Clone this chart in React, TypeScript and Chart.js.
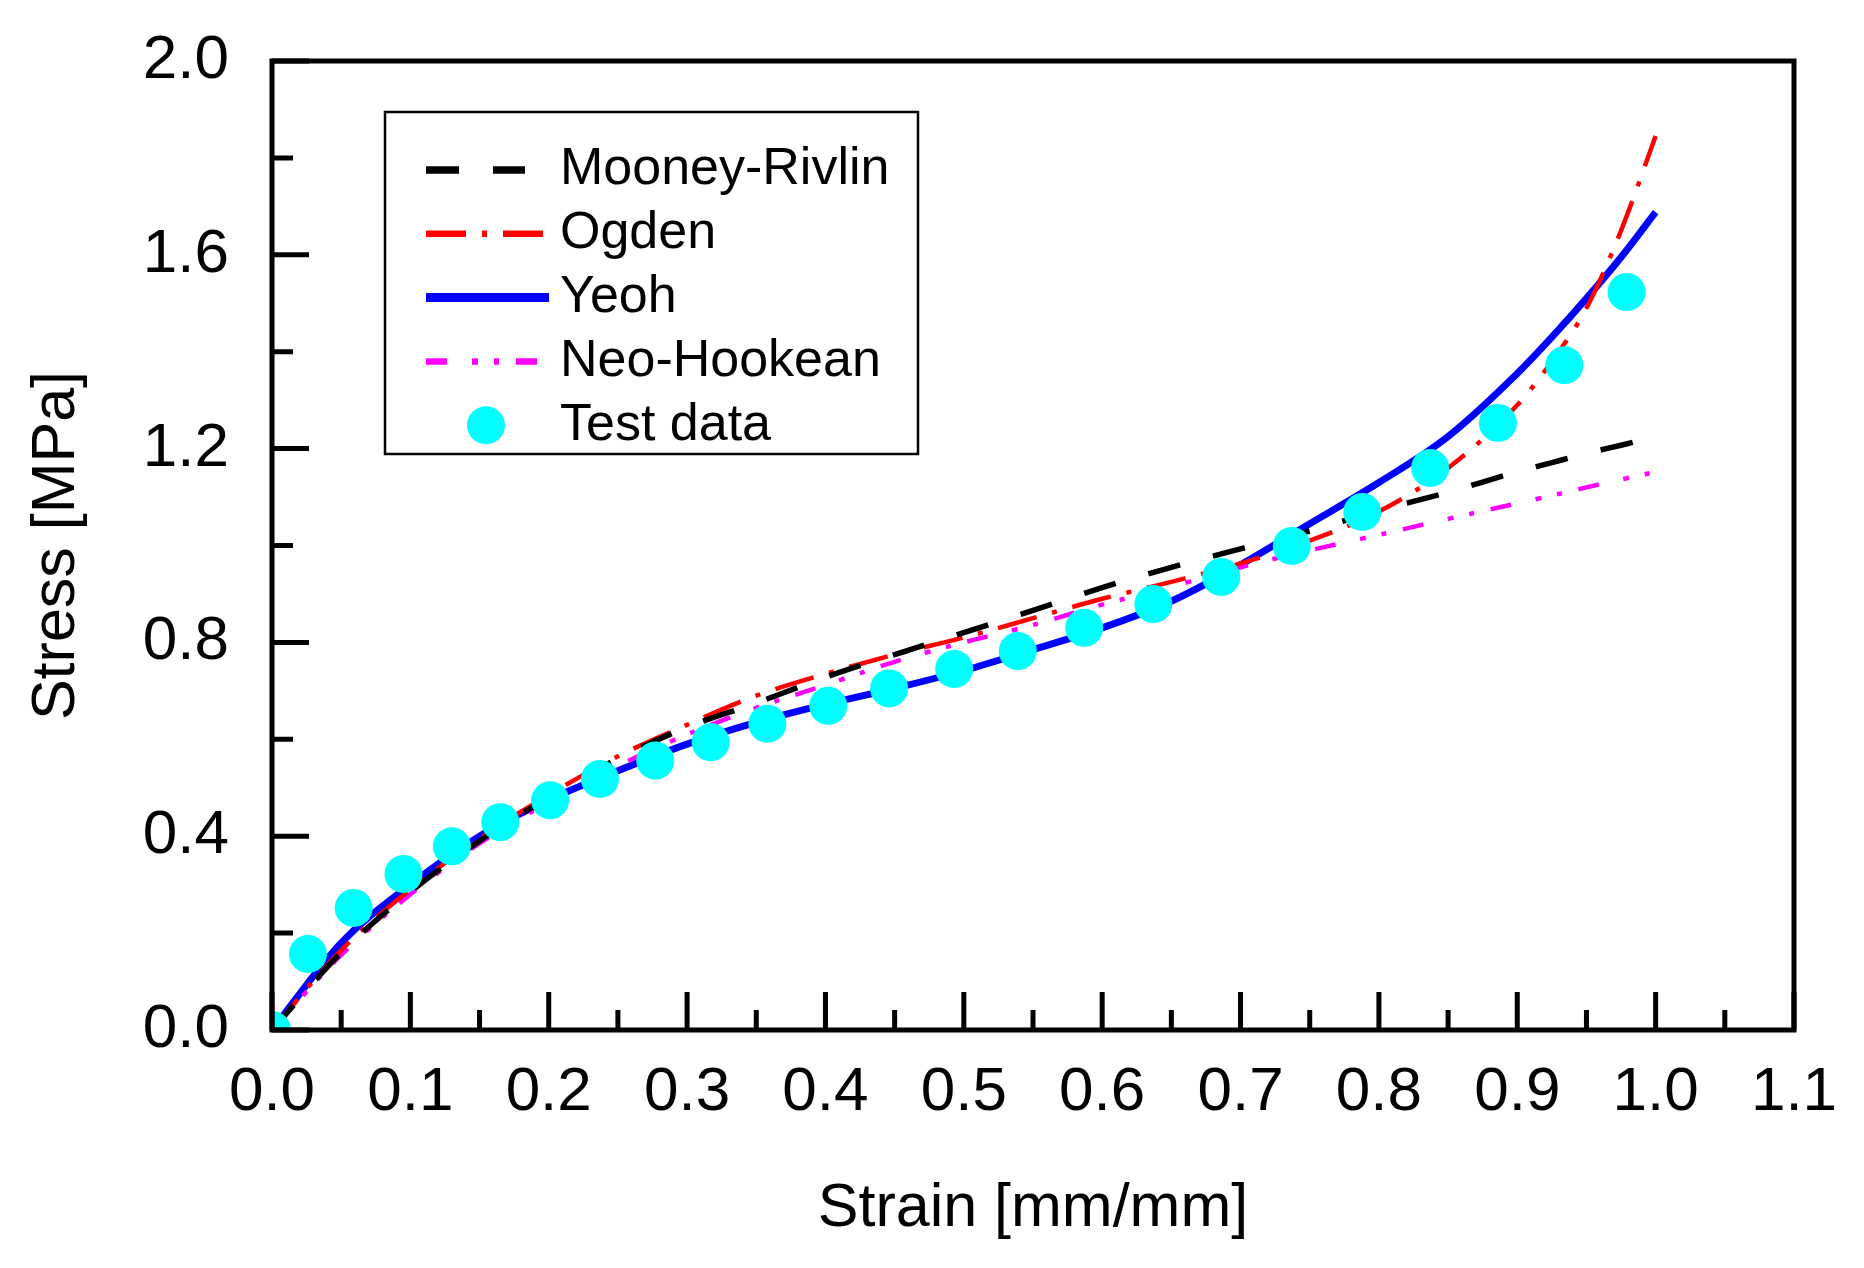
import React, { useEffect, useRef } from "react";
import { Chart, registerables } from "chart.js";

Chart.register(...registerables);

const FONT = '"Liberation Sans", Arial, Helvetica, sans-serif';

// Model curves: strain grid and stress values (MPa)
const strain = [0, 0.05, 0.1, 0.15, 0.2, 0.25, 0.3, 0.35, 0.4, 0.45, 0.5, 0.55, 0.6, 0.65, 0.7, 0.75, 0.8, 0.85, 0.9, 0.925, 0.95, 0.975, 1.0];
const mooneyRivlin = [0, 0.16, 0.285, 0.39, 0.48, 0.56, 0.625, 0.675, 0.728, 0.775, 0.82, 0.866, 0.913, 0.955, 0.993, 1.03, 1.072, 1.11, 1.152, 1.171, 1.19, 1.207, 1.224];
const ogden = [0, 0.165, 0.29, 0.395, 0.485, 0.565, 0.63, 0.69, 0.735, 0.775, 0.81, 0.85, 0.89, 0.925, 0.963, 1.01, 1.07, 1.16, 1.29, 1.38, 1.49, 1.65, 1.845];
const yeoh = [0, 0.18, 0.3, 0.4, 0.475, 0.535, 0.59, 0.635, 0.672, 0.705, 0.742, 0.785, 0.83, 0.885, 0.96, 1.045, 1.13, 1.225, 1.355, 1.43, 1.51, 1.595, 1.688];
const neoHookean = [0, 0.155, 0.28, 0.385, 0.47, 0.545, 0.61, 0.665, 0.712, 0.76, 0.8, 0.836, 0.878, 0.915, 0.955, 0.99, 1.022, 1.055, 1.087, 1.103, 1.12, 1.136, 1.152];

// Test data
const testStrain = [0, 0.026, 0.059, 0.095, 0.13, 0.165, 0.201, 0.237, 0.277, 0.317, 0.358, 0.402, 0.446, 0.493, 0.539, 0.587, 0.637, 0.686, 0.737, 0.788, 0.837, 0.886, 0.934, 0.979];
const testStress = [0, 0.157, 0.252, 0.322, 0.379, 0.429, 0.474, 0.518, 0.556, 0.594, 0.632, 0.669, 0.705, 0.745, 0.782, 0.83, 0.879, 0.935, 0.999, 1.069, 1.16, 1.253, 1.372, 1.523];

const seriesLabels = ["Mooney-Rivlin", "Ogden", "Yeoh", "Neo-Hookean", "Test data"];
const xAxisTitle = "Strain [mm/mm]";
const yAxisTitle = "Stress [MPa]";
const xRange = [0, 1.1];
const xStep = 0.1;
const yRange = [0, 2.0];
const yStep = 0.4;

function pairs(xs: number[], ys: number[]) {
  return xs.map((x, i) => ({ x, y: ys[i] }));
}

const framePlugin = {
  id: "frameTicksLegend",
  afterDraw(chart: any) {
    const { ctx, chartArea: a } = chart;
    const xs = chart.scales.x;
    const ys = chart.scales.y;
    ctx.save();
    ctx.strokeStyle = "#000";
    ctx.lineCap = "butt";
    ctx.lineWidth = 5;
    ctx.beginPath();
    const xv: number[] = xs.ticks.map((t: any) => t.value);
    xv.forEach((v) => {
      const p = xs.getPixelForValue(v);
      ctx.moveTo(p, a.bottom);
      ctx.lineTo(p, a.bottom - 38);
    });
    for (let i = 0; i < xv.length - 1; i++) {
      const p = xs.getPixelForValue((xv[i] + xv[i + 1]) / 2);
      ctx.moveTo(p, a.bottom);
      ctx.lineTo(p, a.bottom - 20);
    }
    const yv: number[] = ys.ticks.map((t: any) => t.value);
    yv.forEach((v) => {
      const p = ys.getPixelForValue(v);
      ctx.moveTo(a.left, p);
      ctx.lineTo(a.left + 37, p);
    });
    for (let i = 0; i < yv.length - 1; i++) {
      const p = ys.getPixelForValue((yv[i] + yv[i + 1]) / 2);
      ctx.moveTo(a.left, p);
      ctx.lineTo(a.left + 21, p);
    }
    ctx.stroke();
    ctx.lineWidth = 5;
    ctx.strokeRect(a.left, a.top, a.right - a.left, a.bottom - a.top);

    // Legend box
    const bl = a.left + 113;
    const bt = a.top + 51;
    const bw = 533;
    const bh = 342;
    ctx.fillStyle = "#fff";
    ctx.fillRect(bl, bt, bw, bh);
    ctx.lineWidth = 2.5;
    ctx.strokeRect(bl, bt, bw, bh);

    const sampleStart = bl + 41;
    const sampleLen = [99, 117, 123, 120];
    const textX = bl + 175;
    ctx.font = `52px ${FONT}`;
    ctx.textBaseline = "middle";
    ctx.textAlign = "left";
    chart.data.datasets.forEach((ds: any, i: number) => {
      const cy = bt + 58 + i * 63.8;
      if (ds.showLine === false) {
        ctx.setLineDash([]);
        ctx.fillStyle = ds.pointBackgroundColor;
        ctx.beginPath();
        ctx.arc(bl + 101, cy, 19, 0, Math.PI * 2);
        ctx.fill();
      } else {
        ctx.strokeStyle = ds.borderColor;
        ctx.lineWidth = ds.borderWidth + 2;
        ctx.setLineDash(ds.borderDash || []);
        ctx.beginPath();
        ctx.moveTo(sampleStart, cy);
        ctx.lineTo(sampleStart + sampleLen[i], cy);
        ctx.stroke();
      }
      ctx.setLineDash([]);
      ctx.fillStyle = "#000";
      ctx.fillText(ds.label, textX, cy);
    });
    ctx.restore();
  },
};

export default function App() {
  const ref = useRef<HTMLCanvasElement>(null);
  useEffect(() => {
    const canvas = ref.current!;
    const chart = new Chart(canvas, {
      type: "line",
      data: {
        datasets: [
          {
            label: seriesLabels[0],
            data: pairs(strain, mooneyRivlin),
            borderColor: "#000000",
            borderWidth: 5.5,
            borderDash: [33, 34],
            pointRadius: 0,
            cubicInterpolationMode: "monotone",
            order: 1,
          },
          {
            label: seriesLabels[1],
            data: pairs(strain, ogden),
            borderColor: "#FF0000",
            borderWidth: 4.5,
            borderDash: [40, 16, 5, 16],
            pointRadius: 0,
            cubicInterpolationMode: "monotone",
            order: 2,
          },
          {
            label: seriesLabels[2],
            data: pairs(strain, yeoh),
            borderColor: "#0000FF",
            borderWidth: 7,
            pointRadius: 0,
            cubicInterpolationMode: "monotone",
            order: 4,
          },
          {
            label: seriesLabels[3],
            data: pairs(strain, neoHookean),
            borderColor: "#FF00FF",
            borderWidth: 4.5,
            borderDash: [21, 25, 6, 16, 5, 17],
            pointRadius: 0,
            cubicInterpolationMode: "monotone",
            order: 3,
          },
          {
            label: seriesLabels[4],
            data: pairs(testStrain, testStress),
            showLine: false,
            pointRadius: 19,
            pointBackgroundColor: "#00FFFF",
            pointBorderWidth: 0,
            pointBorderColor: "#00FFFF",
            borderColor: "#00FFFF",
            clip: 0,
            order: 0,
          },
        ],
      },
      options: {
        animation: false,
        responsive: false,
        devicePixelRatio: 1,
        layout: { autoPadding: false, padding: { top: 61, right: 70, left: 0, bottom: 0 } },
        plugins: { legend: { display: false }, tooltip: { enabled: false } },
        scales: {
          x: {
            type: "linear",
            min: xRange[0],
            max: xRange[1],
            grid: { display: false, drawTicks: false },
            border: { display: false },
            ticks: {
              stepSize: xStep,
              padding: 26,
              color: "#000",
              font: { family: FONT, size: 62 },
              maxRotation: 0,
              autoSkip: false,
              callback: (v: any) => Number(v).toFixed(1),
            },
            title: {
              display: true,
              text: xAxisTitle,
              color: "#000",
              font: { family: FONT, size: 61 },
              padding: { top: 0, bottom: 22 },
            },
            afterFit: (s: any) => {
              s.height = 238;
              s.paddingLeft = 0;
              s.paddingRight = 0;
            },
          },
          y: {
            type: "linear",
            min: yRange[0],
            max: yRange[1],
            grid: { display: false, drawTicks: false },
            border: { display: false },
            ticks: {
              stepSize: yStep,
              padding: 43,
              color: "#000",
              font: { family: FONT, size: 62 },
              autoSkip: false,
              callback: (v: any) => Number(v).toFixed(1),
            },
            title: {
              display: true,
              text: yAxisTitle,
              color: "#000",
              font: { family: FONT, size: 61 },
              padding: { top: 21, bottom: 0 },
            },
            afterFit: (s: any) => {
              s.width = 272;
              s.paddingTop = 0;
              s.paddingBottom = 0;
            },
          },
        },
      },
      plugins: [framePlugin],
    } as any);
    return () => chart.destroy();
  }, []);
  return (
    <div style={{ position: "fixed", left: 0, top: 0, width: 1864, height: 1268, background: "#fff" }}>
      <canvas ref={ref} width={1864} height={1268} style={{ display: "block", width: 1864, height: 1268 }} />
    </div>
  );
}
